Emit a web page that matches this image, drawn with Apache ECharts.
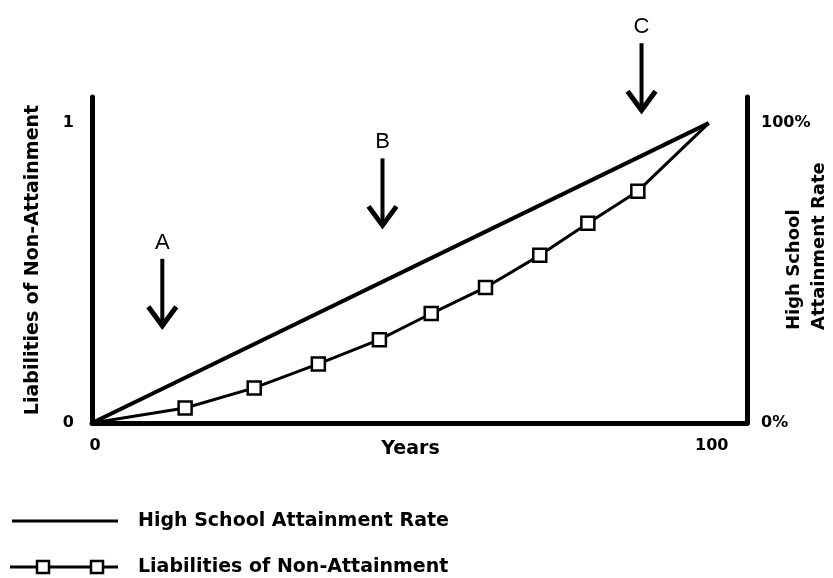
<!DOCTYPE html>
<html>
<head>
<meta charset="utf-8">
<script src="https://cdn.jsdelivr.net/npm/echarts@6/dist/echarts.min.js"></script>
<style>
  html, body { margin: 0; padding: 0; background: #ffffff; }
  #chart { width: 833px; height: 578px; }
</style>
</head>
<body>
<div id="chart"></div>
<script>
// straight attainment line (right axis, %) and liabilities curve (left axis)
const attainYears = [0, 100];
const attainRate = [0, 100];
const liabYears = [0, 15.1, 26.3, 36.7, 46.6, 55.0, 63.8, 72.6, 80.4, 88.5, 100];
const liabValues = [0, 0.05, 0.117, 0.197, 0.278, 0.365, 0.452, 0.559, 0.666, 0.773, 1];
const xTicks = [0, 100];
const leftTicks = [0, 1];
const rightTicks = [0, 100];
// A, B, C arrows: year and value where the arrow tip sits
const arrowLabels = ["A", "B", "C"];
const arrowYears = [11.4, 47.1, 89.1];
const arrowTips = [0.314, 0.649, 1.033];

const boldFont = { color: "#000000", fontFamily: "DejaVu Sans", fontWeight: "bold" };

let chart = echarts.init(document.getElementById("chart"));

let liabData = liabYears.map((x, i) => {
  let item = { value: [x, liabValues[i]] };
  if (i == 0 || i == liabYears.length - 1) item.symbol = "none";
  return item;
});

let option = {
  animation: false,
  grid: { left: 92, right: 86, top: 97, bottom: 155 },
  xAxis: {
    type: "value",
    min: 0,
    max: 106.2,
    interval: 100,
    name: "Years",
    nameLocation: "middle",
    nameGap: 17,
    nameMoveOverlap: false,
    nameTextStyle: { ...boldFont, fontSize: 19, padding: [0, 18, 0, 0] },
    axisLine: { show: true, lineStyle: { color: "#000", width: 5 } },
    axisTick: { show: false },
    splitLine: { show: false },
    axisLabel: {
      ...boldFont,
      fontSize: 16,
      margin: 15,
      showMaxLabel: false,
      padding: [0, 0, 0, 6],
      formatter: (v) => (xTicks.indexOf(v) >= 0 ? String(v) : ""),
    },
  },
  yAxis: [
    {
      type: "value",
      min: 0,
      max: 1.087,
      interval: 1,
      name: "Liabilities of Non-Attainment",
      nameLocation: "middle",
      nameGap: 49,
      nameRotate: 90,
      nameTextStyle: { ...boldFont, fontSize: 19 },
      axisLine: { show: true, lineStyle: { color: "#000", width: 5 } },
      axisTick: { show: false },
      splitLine: { show: false },
      axisLabel: {
        ...boldFont,
        fontSize: 16,
        margin: 18,
        showMaxLabel: false,
        formatter: (v) => (leftTicks.indexOf(v) >= 0 ? String(v) : ""),
      },
    },
    {
      type: "value",
      position: "right",
      min: 0,
      max: 108.7,
      interval: 100,
      axisLine: { show: true, lineStyle: { color: "#000", width: 5 } },
      axisTick: { show: false },
      splitLine: { show: false },
      axisLabel: {
        ...boldFont,
        fontSize: 16,
        margin: 14,
        showMaxLabel: false,
        formatter: (v) => (rightTicks.indexOf(v) >= 0 ? v + "%" : ""),
      },
    },
  ],
  series: [
    {
      name: "High School Attainment Rate",
      type: "line",
      yAxisIndex: 1,
      showSymbol: false,
      lineStyle: { color: "#000", width: 4 },
      data: attainYears.map((x, i) => [x, attainRate[i]]),
    },
    {
      name: "Liabilities of Non-Attainment",
      type: "line",
      yAxisIndex: 0,
      symbol: "rect",
      symbolSize: 13,
      lineStyle: { color: "#000", width: 3 },
      itemStyle: { color: "#fff", borderColor: "#000", borderWidth: 2.5 },
      data: liabData,
    },
  ],
};
chart.setOption(option);

// annotations and legend drawn on top, arrows placed through the axes
let graphics = [];
arrowLabels.forEach((label, i) => {
  let tip = chart.convertToPixel({ xAxisIndex: 0, yAxisIndex: 0 }, [arrowYears[i], arrowTips[i]]);
  let x = tip[0], y = tip[1];
  graphics.push(
    { type: "line", shape: { x1: x, y1: y - 70, x2: x, y2: y - 4 }, style: { stroke: "#000", lineWidth: 4 } },
    { type: "polyline", shape: { points: [[x - 14, y - 22], [x, y - 3], [x + 14, y - 22]] }, style: { stroke: "#000", fill: null, lineWidth: 5 } },
    { type: "text", x: x, y: y - 86, style: { text: label, fontSize: 22, fontFamily: "Liberation Sans", fill: "#000", align: "center", verticalAlign: "middle" } }
  );
});

// right axis title
graphics.push({
  type: "text",
  x: 807,
  y: 330,
  rotation: Math.PI / 2,
  style: {
    text: "High School\nAttainment Rate",
    fontSize: 18,
    fontFamily: "DejaVu Sans",
    fontWeight: "bold",
    lineHeight: 25,
    fill: "#000",
    align: "left",
    verticalAlign: "middle",
  },
});

// legend
graphics.push(
  { type: "line", shape: { x1: 12, y1: 521, x2: 118, y2: 521 }, style: { stroke: "#000", lineWidth: 3 } },
  { type: "text", x: 138, y: 521, style: { text: "High School Attainment Rate", fontSize: 19, fontFamily: "DejaVu Sans", fontWeight: "bold", fill: "#000", verticalAlign: "middle" } },
  { type: "line", shape: { x1: 10, y1: 567, x2: 118, y2: 567 }, style: { stroke: "#000", lineWidth: 3 } },
  { type: "rect", shape: { x: 37, y: 561, width: 12, height: 12 }, style: { fill: "#fff", stroke: "#000", lineWidth: 2.5 } },
  { type: "rect", shape: { x: 91, y: 561, width: 12, height: 12 }, style: { fill: "#fff", stroke: "#000", lineWidth: 2.5 } },
  { type: "text", x: 138, y: 567, style: { text: "Liabilities of Non-Attainment", fontSize: 19, fontFamily: "DejaVu Sans", fontWeight: "bold", fill: "#000", verticalAlign: "middle" } }
);

chart.setOption({ graphic: graphics });
</script>
</body>
</html>
